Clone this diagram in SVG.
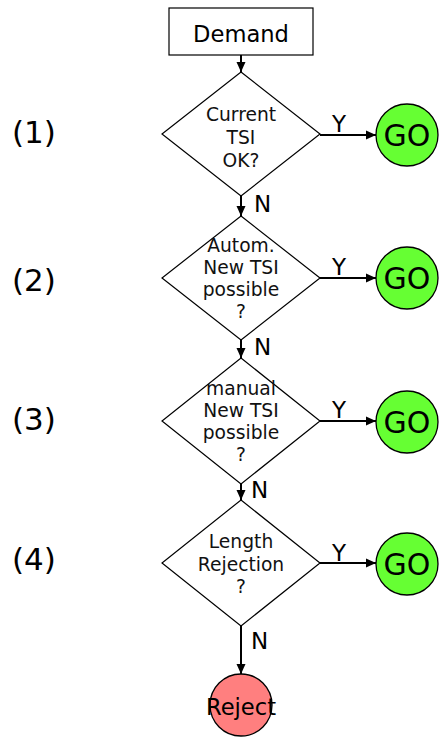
<svg xmlns="http://www.w3.org/2000/svg" width="440" height="738" viewBox="0 0 440 738">
<style>
text{font-family:"DejaVu Sans",Verdana,sans-serif;fill:#000}
.dt{font-size:18.7px;text-anchor:middle;fill:#111}
.lbl{font-size:23px}
.num{font-size:31px}
.go-t{font-size:30px;text-anchor:middle}
.shape{stroke:#000;stroke-width:1.2;fill:#fff}
.go{fill:#66ff33;stroke:#000;stroke-width:1.3}
.rej{fill:#ff7f7f;stroke:#000;stroke-width:1.3}
.conn{stroke:#000;stroke-width:2;fill:none;marker-end:url(#ah)}
</style>
<defs>
<marker id="ah" markerUnits="userSpaceOnUse" markerWidth="11" markerHeight="11" refX="10" refY="5.5" orient="auto">
<path d="M0,1 L10,5.5 L0,10 Z" fill="#000"/>
</marker>
</defs>
<rect width="440" height="738" fill="#fff"/>
<g id="connectors">
<line class="conn" x1="241" y1="55" x2="241" y2="72"/>
<line class="conn" x1="241" y1="196" x2="241" y2="216"/>
<line class="conn" x1="241" y1="340" x2="241" y2="358"/>
<line class="conn" x1="241" y1="484" x2="241" y2="500"/>
<line class="conn" x1="241" y1="626" x2="241" y2="674"/>
<line class="conn" x1="320" y1="135" x2="376" y2="135"/>
<line class="conn" x1="320" y1="278" x2="376" y2="278"/>
<line class="conn" x1="320" y1="421" x2="376" y2="421"/>
<line class="conn" x1="320" y1="563" x2="376" y2="563"/>
<text class="lbl" x="332" y="132">Y</text>
<text class="lbl" x="332" y="275">Y</text>
<text class="lbl" x="332" y="418">Y</text>
<text class="lbl" x="332" y="561">Y</text>
<text class="lbl" x="254" y="212">N</text>
<text class="lbl" x="254" y="355">N</text>
<text class="lbl" x="251" y="498">N</text>
<text class="lbl" x="251" y="649">N</text>
</g>
<g id="demand">
<rect class="shape" x="169" y="8" width="144" height="47"/>
<text x="241" y="41.5" style="font-size:22.6px;text-anchor:middle">Demand</text>
</g>
<g id="d1">
<polygon class="shape" points="241,72 320,134 241,196 162,134"/>
<text class="dt" x="241" y="121">Current</text>
<text class="dt" x="241" y="144">TSI</text>
<text class="dt" x="241" y="167">OK?</text>
</g>
<g id="d2">
<polygon class="shape" points="241,216 320,278 241,340 162,278"/>
<text class="dt" x="241" y="252">Autom.</text>
<text class="dt" x="241" y="274">New TSI</text>
<text class="dt" x="241" y="296">possible</text>
<text class="dt" x="241" y="318">?</text>
</g>
<g id="d3">
<polygon class="shape" points="241,358 320,421 241,484 162,421"/>
<text class="dt" x="241" y="395">manual</text>
<text class="dt" x="241" y="417">New TSI</text>
<text class="dt" x="241" y="439">possible</text>
<text class="dt" x="241" y="461">?</text>
</g>
<g id="d4">
<polygon class="shape" points="241,500 320,563 241,626 162,563"/>
<text class="dt" x="241" y="548">Length</text>
<text class="dt" x="241" y="571">Rejection</text>
<text class="dt" x="241" y="593">?</text>
</g>
<g id="go1"><circle class="go" cx="407" cy="135" r="31"/><text class="go-t" x="407" y="145.5">GO</text></g>
<g id="go2"><circle class="go" cx="407" cy="278" r="31"/><text class="go-t" x="407" y="288.5">GO</text></g>
<g id="go3"><circle class="go" cx="407" cy="422" r="31"/><text class="go-t" x="407" y="432.5">GO</text></g>
<g id="go4"><circle class="go" cx="407" cy="564" r="31"/><text class="go-t" x="407" y="574.5">GO</text></g>
<g id="reject"><circle class="rej" cx="241" cy="705" r="31"/><text x="241" y="715" style="font-size:22.6px;text-anchor:middle">Reject</text></g>
<g id="steps">
<text class="num" x="12" y="143">(1)</text>
<text class="num" x="12" y="291">(2)</text>
<text class="num" x="12" y="430">(3)</text>
<text class="num" x="12" y="570">(4)</text>
</g>
</svg>
